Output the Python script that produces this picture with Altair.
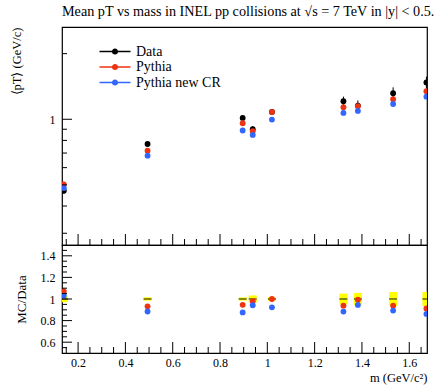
import altair as alt
import pandas as pd

# ---- data ----
mass = [0.1396, 0.4937, 0.8958, 0.9383, 1.0195, 1.3217, 1.3828, 1.5318, 1.6725]
data = [0.470, 0.770, 1.014, 0.900, 1.080, 1.210, 1.155, 1.316, 1.474]
data_err = [0.014, 0.012, 0.015, 0.030, 0.018, 0.060, 0.065, 0.085, 0.095]
pythia = [0.503, 0.718, 0.959, 0.881, 1.080, 1.135, 1.147, 1.235, 1.345]
pythia_cr = [0.484, 0.681, 0.888, 0.848, 0.997, 1.069, 1.092, 1.175, 1.270]
series = ["Data", "Pythia", "Pythia new CR"]
colors = ["#000000", "#EE3311", "#3366FF"]

x_major = [0.2, 0.4, 0.6, 0.8, 1.0, 1.2, 1.4, 1.6]
x_minor = [0.15, 0.25, 0.3, 0.35, 0.45, 0.5, 0.55, 0.65, 0.7, 0.75, 0.85, 0.9,
           0.95, 1.05, 1.1, 1.15, 1.25, 1.3, 1.35, 1.45, 1.5, 1.55, 1.65]
ytop_major = [1.0]
ytop_minor = [0.3, 0.4, 0.5, 0.6, 0.7, 0.8, 0.9, 2.0]
ybot_major = [0.6, 0.8, 1.0, 1.2, 1.4]
ybot_minor = [0.55, 0.65, 0.7, 0.75, 0.85, 0.9, 0.95, 1.05, 1.1, 1.15, 1.25,
              1.3, 1.35, 1.45]

# ---- tables ----
df = pd.DataFrame({"mass": mass, "data": data, "err": data_err})
df["lo"] = df["data"] - df["err"]
df["hi"] = df["data"] + df["err"]
df["blo"] = 1 - df["err"] / df["data"]
df["bhi"] = 1 + df["err"] / df["data"]
df["one"] = 1.0

rows = []
for name, vals in zip(series, [data, pythia, pythia_cr]):
    for m, v, d in zip(mass, vals, data):
        rows.append({"mass": m, "series": name, "value": v, "ratio": v / d})
long = pd.DataFrame(rows)
mc = long[long["series"] != "Data"]

FONT = "Liberation Serif"
W, HT, HB = 365, 218, 108

xs = alt.Scale(domain=[0.132, 1.675], nice=False, zero=False)
ys_top = alt.Scale(type="log", domain=[0.265, 2.65], nice=False)
ys_bot = alt.Scale(domain=[0.5, 1.5], nice=False, zero=False)
cs = alt.Scale(domain=series, range=colors)

# legend glyph: line with a dot, drawn in units of sqrt(size)/2 = 5px
sym = ("M-3.1,-0.13H-0.6V0.13H-3.1Z M0.6,-0.13H3.1V0.13H0.6Z "
       "M-0.62,0A0.62,0.62 0 1,1 0.62,0A0.62,0.62 0 1,1 -0.62,0Z")

ax_top_y = alt.Axis(values=ytop_major, format="~g", ticks=False, domain=False,
                    grid=False, labelFont=FONT, labelFontSize=12,
                    labelPadding=7, labelColor="black",
                    title="⟨pT⟩ (GeV/c)", titleFont=FONT,
                    titleFontSize=12.5, titleFontWeight="normal",
                    titleColor="black", titleX=-46, titleY=0,
                    titleAlign="right", titleBaseline="middle",
                    titleAngle=-90)
ax_bot_x = alt.Axis(values=x_major, format="~g", ticks=False,
                    domain=False, grid=False, labelFont=FONT,
                    labelFontSize=12, labelPadding=4,
                    labelColor="black",
                    title="m (GeV/c²)", titleFont=FONT,
                    titleFontSize=12.5, titleFontWeight="normal",
                    titleColor="black", titleX=W, titleY=28,
                    titleAlign="right", titleBaseline="alphabetic")
ax_bot_y = alt.Axis(values=ybot_major, format="~g", ticks=False,
                    domain=False, grid=False, labelFont=FONT,
                    labelFontSize=12, labelPadding=7,
                    labelColor="black",
                    title="MC/Data", titleFont=FONT,
                    titleFontSize=13, titleFontWeight="normal",
                    titleColor="black", titleX=-41, titleY=HB / 2,
                    titleAlign="center", titleBaseline="middle",
                    titleAngle=-90)


def xticks(values, length, h, axis):
    return alt.Chart(pd.DataFrame({"t": values})).mark_rule(
        color="black", strokeWidth=1).encode(
        x=alt.X("t:Q", scale=xs, axis=axis),
        y=alt.value(h), y2=alt.value(h - length))


def yticks(values, length, scale, axis):
    return alt.Chart(pd.DataFrame({"t": values})).mark_rule(
        color="black", strokeWidth=1).encode(
        y=alt.Y("t:Q", scale=scale, axis=axis),
        x=alt.value(0), x2=alt.value(length))


# ---- top panel ----
err_bars = alt.Chart(df).mark_rule(color="black", clip=True).encode(
    x=alt.X("mass:Q", scale=xs, axis=None),
    y=alt.Y("lo:Q", scale=ys_top, axis=ax_top_y),
    y2="hi:Q")

pts_top = alt.Chart(long).mark_point(filled=True, size=34, opacity=1,
                                     clip=True).encode(
    x=alt.X("mass:Q", scale=xs, axis=None),
    y=alt.Y("value:Q", scale=ys_top, axis=ax_top_y),
    color=alt.Color("series:N", scale=cs, sort=series,
                    legend=alt.Legend(title=None, orient="none", legendX=46,
                                      legendY=17.5, symbolType=sym,
                                      symbolSize=100, symbolStrokeWidth=0,
                                      labelFont=FONT, labelFontSize=14,
                                      labelColor="black", labelOffset=14,
                                      rowPadding=1.5)))

top = alt.layer(
    err_bars, pts_top,
    xticks(x_major, 11, HT, None), xticks(x_minor, 6, HT, None),
    yticks(ytop_major, 10, ys_top, ax_top_y),
    yticks(ytop_minor, 5, ys_top, ax_top_y),
).properties(
    width=W, height=HT,
    title=alt.Title("Mean pT vs mass in INEL pp collisions at √s = 7 TeV in |y| < 0.5.",
                    anchor="start", frame="group", font=FONT, fontSize=14.2,
                    fontWeight="normal", color="black", offset=8))

# ---- ratio panel ----
band = alt.Chart(df).mark_rule(color="#FFFF00", strokeWidth=8,
                               clip=True).encode(
    x=alt.X("mass:Q", scale=xs, axis=ax_bot_x),
    y=alt.Y("blo:Q", scale=ys_bot, axis=ax_bot_y),
    y2="bhi:Q")

dline = alt.Chart(df).mark_tick(color="black", orient="horizontal", size=8,
                                thickness=1.3, clip=True).encode(
    x=alt.X("mass:Q", scale=xs, axis=ax_bot_x),
    y=alt.Y("one:Q", scale=ys_bot, axis=ax_bot_y))

pts_bot = alt.Chart(mc).mark_point(filled=True, size=34, opacity=1,
                                   clip=True).encode(
    x=alt.X("mass:Q", scale=xs, axis=ax_bot_x),
    y=alt.Y("ratio:Q", scale=ys_bot, axis=ax_bot_y),
    color=alt.Color("series:N", scale=cs, legend=None))

bot = alt.layer(
    band, dline, pts_bot,
    xticks(x_major, 11, HB, ax_bot_x), xticks(x_minor, 6, HB, ax_bot_x),
    yticks(ybot_major, 10, ys_bot, ax_bot_y),
    yticks(ybot_minor, 5, ys_bot, ax_bot_y),
).properties(width=W, height=HB)

chart = alt.vconcat(top, bot, spacing=0, bounds="flush").resolve_legend(
    color="independent"
).properties(
    padding={"left": 9, "top": 4, "right": 0, "bottom": 0}
).configure_view(stroke="black", strokeWidth=1.2)

chart.save("out.html", embed_options={"renderer": "svg", "actions": False})
